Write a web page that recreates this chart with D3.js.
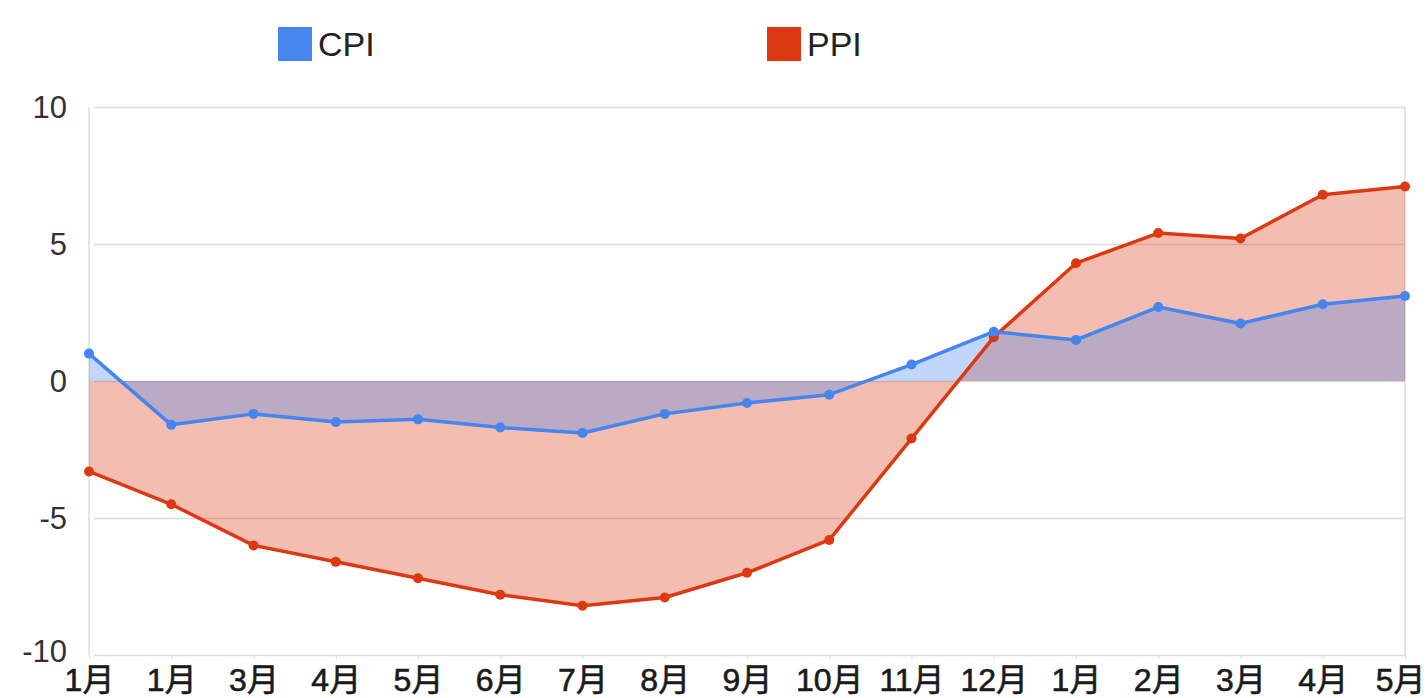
<!DOCTYPE html>
<html>
<head>
<meta charset="utf-8">
<script src="https://cdn.jsdelivr.net/npm/d3@7"></script>
<style>
  html, body { margin: 0; padding: 0; background: #fff; }
  svg { display: block; }
  text { font-family: "Liberation Sans", Arial, "Noto Sans CJK SC", sans-serif; }
</style>
</head>
<body>
<svg id="chart" width="1428" height="698"></svg>
<script>
const months = ["1月","1月","3月","4月","5月","6月","7月","8月","9月","10月","11月","12月","1月","2月","3月","4月","5月"];
const cpi = [1.0, -1.6, -1.2, -1.5, -1.4, -1.7, -1.9, -1.2, -0.8, -0.5, 0.6, 1.8, 1.5, 2.7, 2.1, 2.8, 3.1];
const ppi = [-3.3, -4.5, -6.0, -6.6, -7.2, -7.8, -8.2, -7.9, -7.0, -5.8, -2.1, 1.6, 4.3, 5.4, 5.2, 6.8, 7.1];
const yTicks = [-10, -5, 0, 5, 10];
const seriesNames = ["CPI", "PPI"];
const seriesColors = ["#4684ee", "#dc3912"];

(function () {
const svg = d3.select("#chart");
const pLeft = 89, pRight = 1405, pTop = 107, pBottom = 655;

const x = d3.scalePoint().domain(d3.range(months.length)).range([pLeft, pRight]);
const y = d3.scaleLinear().domain([-10, 10]).range([pBottom, pTop]);

// gridlines
const gy = svg.append("g")
  .attr("transform", `translate(${pLeft},0)`)
  .call(d3.axisLeft(y).tickValues(yTicks).tickSize(-(pRight - pLeft)).tickPadding(22).tickFormat(d => String(d)));
gy.select(".domain").remove();
gy.selectAll(".tick line").attr("stroke", "#dcdcdc").attr("stroke-width", 1.5).attr("x1", 5);
gy.selectAll(".tick text")
  .attr("font-size", 31).attr("fill", "#333").attr("dy", "0.35em")
  .attr("font-family", "'Liberation Sans', Arial, sans-serif");
gy.selectAll(".tick").filter(d => d === -10).select("text").attr("dy", "0.2em");

// plot frame
svg.append("line").attr("x1", pLeft).attr("x2", pLeft).attr("y1", pTop).attr("y2", pBottom)
  .attr("stroke", "#dcdcdc").attr("stroke-width", 1.5);
svg.append("line").attr("x1", pRight).attr("x2", pRight).attr("y1", pTop).attr("y2", pBottom)
  .attr("stroke", "#dcdcdc").attr("stroke-width", 1.5);

// x axis labels
const gx = svg.append("g")
  .attr("transform", `translate(0,${pBottom})`)
  .call(d3.axisBottom(x).tickSize(4).tickPadding(2).tickFormat(i => months[i]));
gx.select(".domain").remove();
gx.selectAll(".tick line").attr("stroke", "#dcdcdc");
gx.selectAll(".tick text")
  .attr("font-size", 32).attr("fill", "#1a1a1a").attr("dy", "0.95em")
  .attr("stroke", "#1a1a1a").attr("stroke-width", 0.6)
  .attr("font-family", "'Liberation Sans', Arial, 'Noto Sans CJK SC', sans-serif");
// keep last label inside the picture
gx.selectAll(".tick").filter(i => i === months.length - 1).select("text")
  .attr("text-anchor", "end").attr("x", 20);

// areas
const area = d3.area().x((d, i) => x(i)).y0(y(0)).y1(d => y(d));
const line = d3.line().x((d, i) => x(i)).y(d => y(d));
const data = [cpi, ppi];

[1, 0].forEach(k => {
  svg.append("path").datum(data[k]).attr("d", area)
    .attr("fill", seriesColors[k]).attr("fill-opacity", 0.33);
});
[1, 0].forEach(k => {
  svg.append("path").datum(data[k]).attr("d", line)
    .attr("fill", "none").attr("stroke", seriesColors[k]).attr("stroke-width", 3.5)
    .attr("stroke-linejoin", "round");
  svg.append("g").selectAll("circle").data(data[k]).join("circle")
    .attr("cx", (d, i) => x(i)).attr("cy", d => y(d)).attr("r", 5)
    .attr("fill", seriesColors[k]);
});

// legend
const legendX = [278, 767];
seriesNames.forEach((name, k) => {
  const g = svg.append("g").attr("transform", `translate(${legendX[k]},27)`);
  g.append("rect").attr("width", 34).attr("height", 34).attr("fill", seriesColors[k]);
  g.append("text").attr("x", 40).attr("y", 17).attr("dy", "0.36em")
    .attr("font-size", 34).attr("fill", "#222").text(name);
});
})();
</script>
</body>
</html>
